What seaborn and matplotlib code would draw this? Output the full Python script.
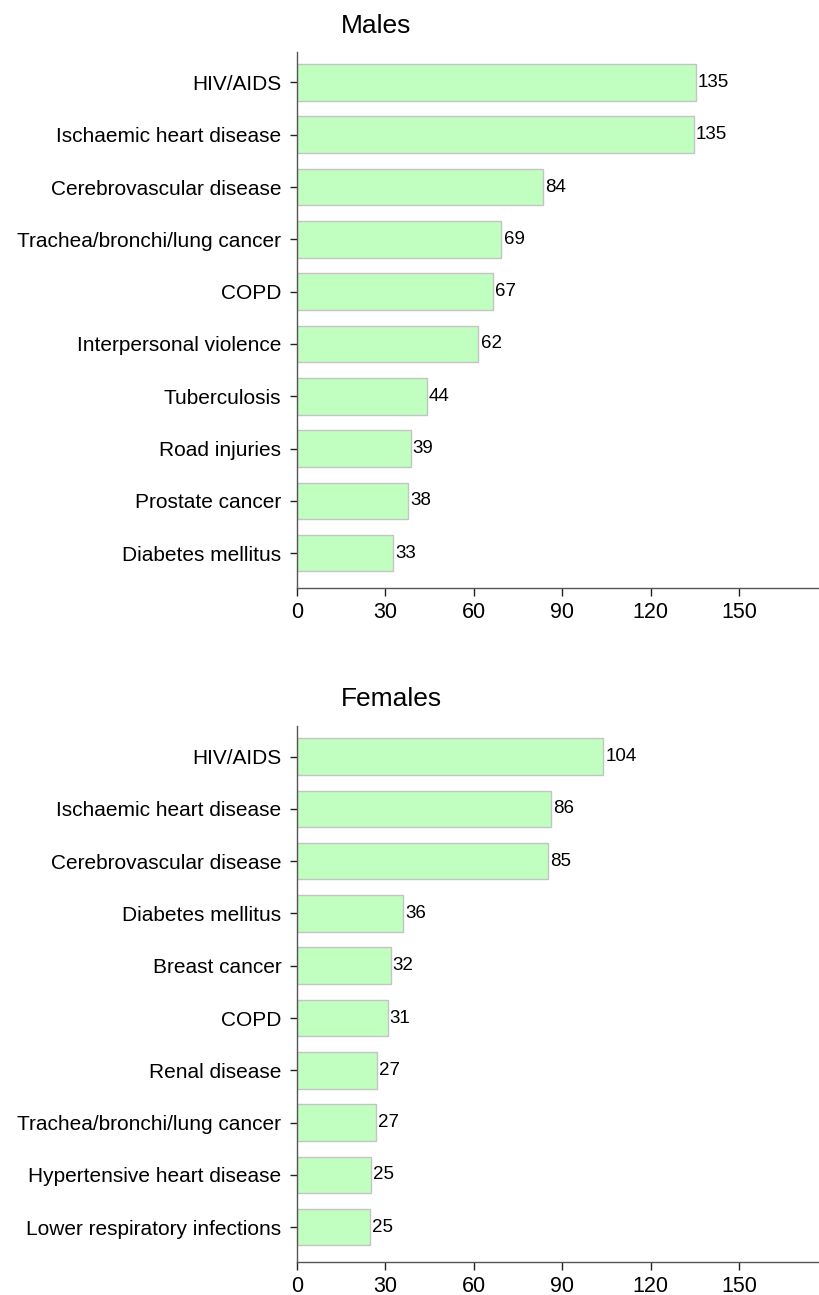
import matplotlib
matplotlib.use("Agg")
import matplotlib.pyplot as plt
import seaborn as sns
import pandas as pd

male_causes = ["HIV/AIDS", "Ischaemic heart disease", "Cerebrovascular disease",
               "Trachea/bronchi/lung cancer", "COPD", "Interpersonal violence",
               "Tuberculosis", "Road injuries", "Prostate cancer", "Diabetes mellitus"]
male_values = [135.3, 134.6, 83.6, 69.4, 66.6, 61.6, 44.1, 38.6, 37.8, 32.8]

female_causes = ["HIV/AIDS", "Ischaemic heart disease", "Cerebrovascular disease",
                 "Diabetes mellitus", "Breast cancer", "COPD", "Renal disease",
                 "Trachea/bronchi/lung cancer", "Hypertensive heart disease",
                 "Lower respiratory infections"]
female_values = [103.9, 86.2, 85.2, 36.0, 31.8, 30.8, 27.2, 26.9, 25.1, 24.9]

x_ticks = [0, 30, 60, 90, 120, 150]
titles = ["Males", "Females"]

sns.set_style("ticks")
plt.rcParams["font.family"] = ["Liberation Sans", "DejaVu Sans"]
plt.rcParams["text.color"] = "black"
plt.rcParams["xtick.labelcolor"] = "black"
plt.rcParams["ytick.labelcolor"] = "black"

W, H = 819, 1295
fig = plt.figure(figsize=(W / 100, H / 100), dpi=100)

left = 296.7 / W
panels = [
    (male_causes, male_values, 51.6, 587.7, 32.7),
    (female_causes, female_values, 725.7, 1261.7, 706.0),
]

for (cats, vals, top_px, bot_px, title_px), title in zip(panels, titles):
    ax = fig.add_axes([left, 1 - bot_px / H, 1 - left, (bot_px - top_px) / H])
    df = pd.DataFrame({"cause": cats, "value": vals})
    sns.barplot(data=df, x="value", y="cause", orient="h", ax=ax,
                color="#c1ffc1", saturation=1, width=0.7,
                edgecolor="#c4c4c4", linewidth=1.0)
    ax.bar_label(ax.containers[0], fmt="%.0f", padding=1.5, fontsize=13.5,
                 color="black")
    ax.set_xlim(0, 177)
    ax.set_ylim(9.66, -0.59)
    ax.set_xticks(x_ticks)
    ax.set_xticklabels([str(t) for t in x_ticks])
    ax.set_xlabel("")
    ax.set_ylabel("")
    for s in ["top", "right"]:
        ax.spines[s].set_visible(False)
    for s in ["left", "bottom"]:
        ax.spines[s].set_color("#555555")
        ax.spines[s].set_linewidth(1.0)
    ax.tick_params(axis="y", length=5, width=1, color="#222222", labelsize=15,
                   pad=6, labelcolor="black")
    ax.tick_params(axis="x", length=6, width=1, color="#222222", labelsize=15.5,
                   pad=4, labelcolor="black")
    fig.text(341 / W, 1 - title_px / H, title, ha="left", va="baseline",
             fontsize=19, color="black")

fig.savefig("out.png", dpi=100)
